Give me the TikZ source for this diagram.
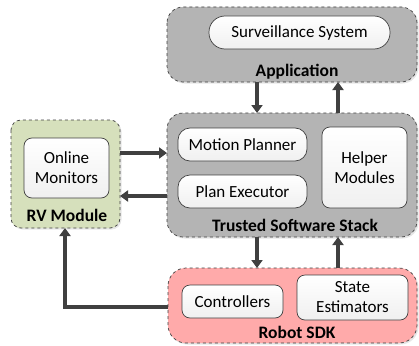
\documentclass[tikz,border=0pt]{standalone}
\usepackage{fontspec}
\setmainfont{Carlito}
\usetikzlibrary{arrows.meta,shadows}
\definecolor{arr}{HTML}{404040}
\definecolor{grayfill}{HTML}{B4B4B4}
\definecolor{greenfill}{HTML}{D6E0BC}
\definecolor{pinkfill}{HTML}{FFAAAA}
\tikzset{
  outer/.style={draw=arr, dashed, line width=0.7pt, rounded corners=16pt,
    drop shadow={opacity=0.2, shadow xshift=1.5pt, shadow yshift=-1.5pt}},
  inner/.style={draw=arr, line width=0.7pt, top color=white, bottom color=gray!12,
    align=center, inner sep=0pt},
  lbl/.style={font=\fontsize{17.5}{19}\selectfont\bfseries},
  conn/.style={draw=arr, line width=3.2pt, -{Triangle[length=8pt,width=11pt]}},
}
\begin{document}
\begin{tikzpicture}[x=1pt,y=-1pt,font=\fontsize{17}{20}\selectfont]
\useasboundingbox (0,0) rectangle (419,345);
% outer boxes
\path[outer, fill=grayfill] (167,7) rectangle (417,82);
\path[outer, fill=grayfill] (167,113) rectangle (417,237);
\path[outer, fill=greenfill, rounded corners=10pt] (11,120) rectangle (120,228);
\path[outer, fill=pinkfill, rounded corners=18pt] (168,268) rectangle (417,343);
% named anchors of outer boxes
\coordinate (appL) at (257,82);
\coordinate (appR) at (338,82);
\coordinate (tssTL) at (257,113);
\coordinate (tssTR) at (338,113);
\coordinate (tssBL) at (257,237);
\coordinate (tssBR) at (338,237);
\coordinate (sdkTL) at (257,268);
\coordinate (sdkTR) at (338,268);
\coordinate (rvR1) at (120,153);
\coordinate (tssL1) at (167,153);
\coordinate (rvR2) at (120,196);
\coordinate (tssL2) at (167,196);
\coordinate (sdkL) at (168,307);
\coordinate (rvB) at (65,228);
% labels
\node[lbl] (app) at (297,72) {Application};
\node[lbl] (tss) at (295,225) {Trusted Software Stack};
\node[lbl] (rv) at (67,215) {RV Module};
\node[lbl] (sdk) at (297,332) {Robot SDK};
% inner nodes
\node[inner, rounded corners=16pt, minimum width=181pt, minimum height=33pt] (surv) at (299.5,32.5) {Surveillance System};
\node[inner, rounded corners=12pt, minimum width=129pt, minimum height=33pt] (mp) at (242.5,144.5) {Motion Planner};
\node[inner, rounded corners=12pt, minimum width=129pt, minimum height=33pt] (pe) at (242.5,191.5) {Plan Executor};
\node[inner, rounded corners=8pt, minimum width=85pt, minimum height=81pt] (hm) at (364.5,167.5) {Helper\\Modules};
\node[inner, rounded corners=8pt, minimum width=85pt, minimum height=60pt] (om) at (66.5,168) {Online\\Monitors};
\node[inner, rounded corners=8pt, minimum width=101pt, minimum height=33pt] (ctl) at (232.5,301.5) {Controllers};
\node[inner, rounded corners=8pt, minimum width=111pt, minimum height=45pt] (se) at (352.5,297.5) {State\\Estimators};
% connectors
\draw[conn] (appL) -- (tssTL);
\draw[conn] (tssTR) -- (appR);
\draw[conn] (tssBL) -- (sdkTL);
\draw[conn] (sdkTR) -- (tssBR);
\draw[conn] (rvR1) -- (tssL1);
\draw[conn] (tssL2) -- (rvR2);
\draw[conn] (sdkL) -| (rvB);
\end{tikzpicture}
\end{document}
